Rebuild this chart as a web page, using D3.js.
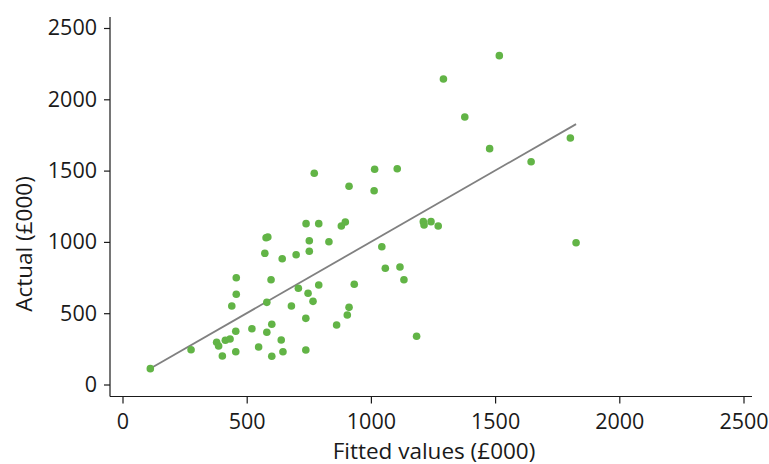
<!DOCTYPE html>
<html>
<head>
<meta charset="utf-8">
<script src="https://cdn.jsdelivr.net/npm/d3@7/dist/d3.min.js"></script>
<style>
  html, body { margin: 0; padding: 0; background: #fff; }
  svg { display: block; }
  text { font-family: "Open Sans", "DejaVu Sans", sans-serif; fill: #1a1a1a; }
</style>
</head>
<body>
<svg id="chart" width="769" height="464"></svg>
<script>
// Fitted values (£000) for each observation
const fitted = [
  112, 276, 379, 387, 414, 433, 402, 456, 456, 440,
  458, 458, 521, 548, 581, 601, 601, 581, 598, 573,
  578, 585, 639, 646, 643, 680, 699, 708, 738, 738,
  739, 747, 752, 752, 767, 772, 790, 790, 831, 862,
  881, 897, 905, 912, 912, 933, 1015, 1013, 1044, 1106,
  1058, 1117, 1133, 1184, 1211, 1214, 1242, 1271, 1292, 1378,
  1478, 1517, 1645, 1803, 1826
];
// Actual values (£000) for the same observations
const actual = [
  111, 244, 296, 270, 310, 319, 200, 373, 230, 550,
  633, 749, 391, 263, 366, 422, 198, 576, 735, 920,
  1029, 1034, 312, 230, 882, 550, 910, 675, 464, 242,
  1128, 640, 1008, 934, 583, 1481, 1128, 698, 1001, 417,
  1112, 1140, 487, 541, 1390, 703, 1509, 1359, 966, 1513,
  815, 824, 735, 338, 1142, 1118, 1142, 1112, 2142, 1876,
  1654, 2306, 1562, 1729, 994
];
// Axis ticks
const xTicks = [0, 500, 1000, 1500, 2000, 2500];
const yTicks = [0, 500, 1000, 1500, 2000, 2500];
// Line of perfect fit: actual = intercept + slope * fitted
const fitIntercept = 0;
const fitSlope = 1;

const svg = d3.select("#chart");

const x = d3.scaleLinear().domain([0, 2500]).range([122.5, 743.5]);
const y = d3.scaleLinear().domain([0, 2500]).range([384.5, 28]);

const axisX = 110;   // position of the detached y axis
const axisY = 396.5; // position of the detached x axis
const axisColor = "#1a1a1a";
const tickFont = 21.5;
const titleFont = 22.5;

// x axis
const gx = svg.append("g")
  .attr("transform", `translate(0,${axisY})`)
  .call(d3.axisBottom(x).tickValues(xTicks).tickSize(7).tickSizeOuter(0).tickPadding(10).tickFormat(d3.format("d")));
gx.select(".domain").remove();
gx.selectAll(".tick line").attr("stroke", axisColor).attr("stroke-width", 1.2);
gx.selectAll(".tick text").attr("font-size", tickFont).style("font-family", "'Open Sans', sans-serif").attr("fill", "#1a1a1a");
svg.append("line")
  .attr("x1", axisX).attr("x2", 752)
  .attr("y1", axisY).attr("y2", axisY)
  .attr("stroke", axisColor).attr("stroke-width", 1.2);

// y axis
const gy = svg.append("g")
  .attr("transform", `translate(${axisX},0)`)
  .call(d3.axisLeft(y).tickValues(yTicks).tickSize(6).tickSizeOuter(0).tickPadding(7).tickFormat(d3.format("d")));
gy.select(".domain").remove();
gy.selectAll(".tick line").attr("stroke", axisColor).attr("stroke-width", 1.2);
gy.selectAll(".tick text").attr("font-size", tickFont).style("font-family", "'Open Sans', sans-serif").attr("fill", "#1a1a1a");
svg.append("line")
  .attr("x1", axisX).attr("x2", axisX)
  .attr("y1", 17).attr("y2", axisY)
  .attr("stroke", axisColor).attr("stroke-width", 1.2);

// axis titles
svg.append("text")
  .attr("x", 434).attr("y", 458.5)
  .attr("text-anchor", "middle")
  .attr("font-size", titleFont)
  .text("Fitted values (£000)");

svg.append("text")
  .attr("transform", "translate(32,244) rotate(-90)")
  .attr("text-anchor", "middle")
  .attr("font-size", titleFont)
  .text("Actual (£000)");

// fitted line across the range of fitted values
const [xmin, xmax] = d3.extent(fitted);
svg.append("line")
  .attr("x1", x(xmin)).attr("y1", y(fitIntercept + fitSlope * xmin))
  .attr("x2", x(xmax)).attr("y2", y(fitIntercept + fitSlope * xmax))
  .attr("stroke", "#808080").attr("stroke-width", 1.8);

// observations
svg.append("g")
  .selectAll("circle")
  .data(d3.zip(fitted, actual))
  .join("circle")
  .attr("cx", d => x(d[0]))
  .attr("cy", d => y(d[1]))
  .attr("r", 3.8)
  .attr("fill", "#62b446");
</script>
</body>
</html>
